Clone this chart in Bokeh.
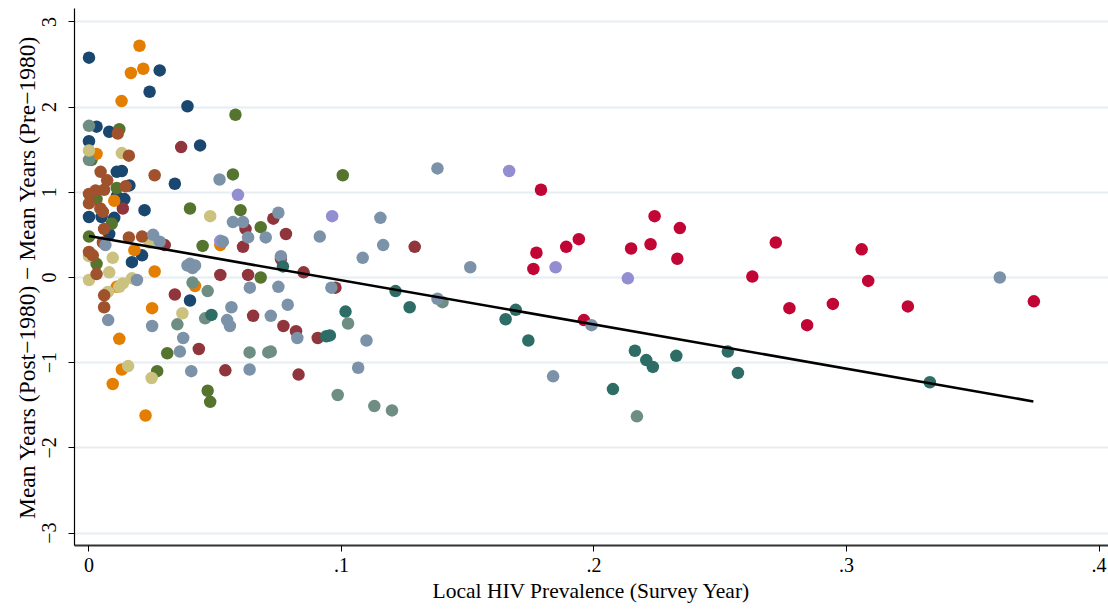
from bokeh.plotting import figure
from bokeh.models import FixedTicker, CustomJSTickFormatter, Range1d
from bokeh.embed import file_html
from bokeh.resources import INLINE

# ---------------- data ----------------
navy_x = [0.000, 0.028, 0.024, 0.039, 0.044, 0.034, 0.003, 0.008, 0.000, 0.011, 0.013, 0.016,
          0.014, 0.022, 0.000, 0.005, 0.010, 0.017, 0.021, 0.008, 0.040, 0.011]
navy_y = [2.58, 2.43, 2.18, 2.01, 1.55, 1.10, 1.77, 1.71, 1.60, 1.24, 1.25, 1.08,
          0.92, 0.79, 0.71, 0.71, 0.70, 0.18, 0.26, 0.51, -0.27, 0.95]

maroon_x = [0.0365, 0.0134, 0.062, 0.061, 0.030, 0.052, 0.063, 0.034, 0.065, 0.0435, 0.054,
            0.073, 0.078, 0.085, 0.0976, 0.077, 0.082, 0.0906, 0.083, 0.129, 0.076]
maroon_y = [1.53, 0.81, 0.57, 0.36, 0.38, 0.03, 0.03, -0.20, -0.45, -0.84, -1.09,
            0.69, 0.51, 0.06, -0.12, -0.57, -0.63, -0.71, -1.14, 0.36, 0.22]

green_x = [0.058, 0.012, 0.057, 0.001, 0.011, 0.003, 0.040, 0.009, 0.000, 0.060, 0.068,
           0.045, 0.068, 0.031, 0.027, 0.047, 0.048, 0.003, 0.1005]
green_y = [1.91, 1.74, 1.21, 1.38, 1.05, 0.92, 0.81, 0.63, 0.48, 0.79, 0.59,
           0.37, 0.00, -0.89, -1.10, -1.33, -1.46, 0.16, 1.20]

orange_x = [0.020, 0.0166, 0.0215, 0.0129, 0.003, 0.010, 0.052, 0.042, 0.018, 0.026, 0.025,
            0.012, 0.013, 0.0094, 0.0224, 0.011]
orange_y = [2.72, 2.40, 2.45, 2.07, 1.45, 0.90, 0.38, -0.10, 0.32, 0.07, -0.36,
            -0.72, -1.08, -1.25, -1.62, -0.11]

teal_x = [0.000, 0.000, 0.041, 0.047, 0.035, 0.046, 0.0636, 0.071, 0.1026, 0.072, 0.0985,
          0.113, 0.120, 0.140, 0.217]
teal_y = [1.78, 1.38, -0.06, -0.16, -0.55, -0.48, -0.88, -0.88, -0.54, -0.87, -1.38,
          -1.51, -1.56, -0.29, -1.63]

cranberry_x = [0.179, 0.224, 0.194, 0.189, 0.2147, 0.2224, 0.1772, 0.176, 0.233, 0.234, 0.196,
               0.272, 0.2627, 0.306, 0.3086, 0.2774, 0.2844, 0.2946, 0.3243, 0.3742]
cranberry_y = [1.03, 0.72, 0.45, 0.36, 0.34, 0.39, 0.29, 0.10, 0.22, 0.58, -0.50,
               0.41, 0.01, 0.33, -0.04, -0.36, -0.56, -0.31, -0.34, -0.28]

lavender_x = [0.059, 0.052, 0.0963, 0.1664, 0.1848, 0.2134]
lavender_y = [0.97, 0.43, 0.72, 1.25, 0.12, -0.01]

khaki_x = [0.000, 0.013, 0.048, 0.000, 0.0094, 0.008, 0.0134, 0.017, 0.0075, 0.000, 0.037,
           0.024, 0.0155, 0.0248, 0.012]
khaki_y = [1.49, 1.46, 0.72, -0.03, 0.23, 0.06, -0.07, -0.01, -0.17, 0.25, -0.42,
           0.41, -1.04, -1.18, -0.11]

sienna_x = [0.0114, 0.0158, 0.026, 0.0046, 0.0072, 0.0145, 0.0026, 0.000, 0.006, 0.000, 0.0045,
            0.0055, 0.006, 0.0158, 0.021, 0.000, 0.0015, 0.003, 0.006, 0.006, 0.0055]
sienna_y = [1.69, 1.43, 1.20, 1.24, 1.14, 1.07, 1.02, 0.98, 1.03, 0.87, 0.81,
            0.77, 0.57, 0.47, 0.48, 0.30, 0.26, 0.04, -0.21, -0.35, 0.41]

emidblue_x = [0.0517, 0.057, 0.061, 0.075, 0.063, 0.070, 0.053, 0.040, 0.041, 0.039, 0.042,
              0.076, 0.0637, 0.075, 0.0564, 0.0787, 0.0254, 0.028, 0.0065, 0.019, 0.0547,
              0.0558, 0.025, 0.0076, 0.0373, 0.036, 0.0405, 0.0636, 0.072, 0.0825, 0.0914,
              0.1154, 0.1165, 0.1084, 0.096, 0.1099, 0.1066, 0.138, 0.138, 0.151, 0.1838,
              0.199, 0.3607]
emidblue_y = [1.15, 0.65, 0.65, 0.76, 0.47, 0.47, 0.42, 0.16, 0.11, 0.14, 0.14,
              0.25, -0.12, -0.11, -0.35, -0.32, 0.50, 0.42, 0.38, -0.03, -0.50,
              -0.57, -0.57, -0.50, -0.71, -0.87, -1.10, -1.08, -0.45, -0.71, 0.48,
              0.70, 0.38, 0.23, -0.12, -0.74, -1.06, 1.28, -0.25, 0.12, -1.16,
              -0.56, 0.00]

emerald_x = [0.0768, 0.1016, 0.0954, 0.094, 0.1214, 0.127, 0.0485, 0.169, 0.165, 0.174, 0.2162,
             0.2207, 0.2233, 0.2326, 0.2075, 0.253, 0.257, 0.333]
emerald_y = [0.13, -0.40, -0.68, -0.69, -0.16, -0.35, -0.44, -0.38, -0.49, -0.74, -0.86,
             -0.97, -1.05, -0.92, -1.31, -0.87, -1.12, -1.23]

fit_x = [0.0, 0.374]
fit_y = [0.486, -1.455]

x_ticks = [0.0, 0.1, 0.2, 0.3, 0.4]
y_ticks = [-3, -2, -1, 0, 1, 2, 3]

x_title = "Local HIV Prevalence (Survey Year)"
y_title = "Mean Years (Post\u22121980) \u2212 Mean Years (Pre\u22121980)"

groups = [
    (navy_x, navy_y, "#1a476f"),
    (maroon_x, maroon_y, "#90353b"),
    (green_x, green_y, "#55752f"),
    (orange_x, orange_y, "#e37e00"),
    (teal_x, teal_y, "#6e8e84"),
    (cranberry_x, cranberry_y, "#c10534"),
    (lavender_x, lavender_y, "#938dd2"),
    (khaki_x, khaki_y, "#cac27e"),
    (sienna_x, sienna_y, "#a0522d"),
    (emidblue_x, emidblue_y, "#7b92a8"),
    (emerald_x, emerald_y, "#2d6d66"),
]

FONT = "Liberation Serif"

p = figure(width=1108, height=612, output_backend="svg", toolbar_location=None,
           x_range=Range1d(-0.00574, 0.40376), y_range=Range1d(-3.146, 3.157),
           min_border_left=74, min_border_right=0, min_border_top=8, min_border_bottom=67)

p.background_fill_color = "white"
p.border_fill_color = "white"
p.outline_line_color = None

for xs, ys, col in groups:
    p.scatter(xs, ys, size=12.5, marker="circle", fill_color=col, line_color=None)

p.line(fit_x, fit_y, line_color="black", line_width=2.6)

# grid
p.xgrid.grid_line_color = None
p.ygrid.grid_line_color = "#e6eef1"
p.ygrid.grid_line_width = 2
p.ygrid.ticker = FixedTicker(ticks=y_ticks)

# axes
p.xaxis.ticker = FixedTicker(ticks=x_ticks)
p.yaxis.ticker = FixedTicker(ticks=y_ticks)
p.xaxis.formatter = CustomJSTickFormatter(code="""
    if (Math.abs(tick) < 1e-9) { return "0"; }
    return tick.toFixed(1).replace(/^0/, "");
""")
p.yaxis.formatter = CustomJSTickFormatter(code="""
    var t = Math.round(tick);
    return t < 0 ? "\u2212" + Math.abs(t) : "" + t;
""")

for ax in (p.xaxis[0], p.yaxis[0]):
    ax.axis_line_color = "black"
    ax.major_tick_line_color = "black"
    ax.major_tick_out = 6
    ax.major_tick_in = 0
    ax.minor_tick_line_color = None
    ax.major_label_text_font = FONT
    ax.major_label_text_font_size = "20px"
    ax.major_label_text_color = "black"
    ax.axis_label_text_font = FONT
    ax.axis_label_text_font_size = "21.5px"
    ax.axis_label_text_font_style = "normal"
    ax.axis_label_text_color = "black"

p.yaxis.axis_label_text_font_size = "23.5px"
p.xaxis.axis_line_width = 2
p.xaxis.axis_line_color = "#333333"
p.yaxis.axis_line_width = 1.2

p.xaxis.axis_label = x_title
p.yaxis.axis_label = y_title
p.yaxis.major_label_orientation = "vertical"
p.yaxis.major_label_standoff = 12
p.xaxis.major_label_standoff = 6
p.yaxis.axis_label_standoff = 0
p.xaxis.axis_label_standoff = 4

open("out.html", "w").write(file_html(p, INLINE))
